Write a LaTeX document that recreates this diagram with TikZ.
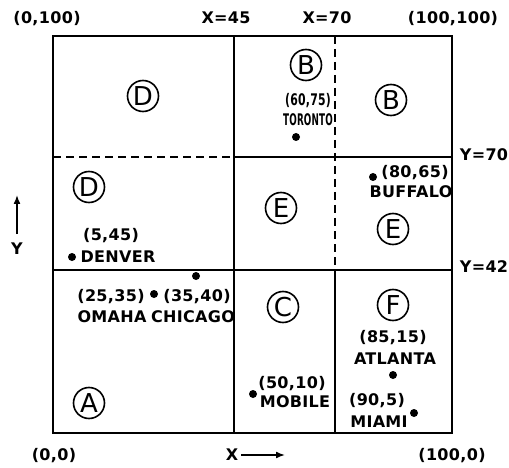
\documentclass[tikz,border=0pt]{standalone}
\usepackage{fontspec}
\usepackage{graphicx}
\setmainfont{DejaVu Sans}
\newfontfamily\lab[LetterSpace=2]{DejaVu Sans}
\usetikzlibrary{arrows.meta}
\begin{document}
\begin{tikzpicture}[x=1pt,y=-1pt,
  lbl/.style={font=\lab\bfseries\fontsize{16}{16}\selectfont, inner sep=0pt, text height=11.5pt, text depth=0pt},
  reg/.style={circle, draw, line width=1.6pt, minimum size=31pt, inner sep=0pt, font=\fontsize{26}{26}\selectfont},
  city/.style={circle, fill, minimum size=8pt, inner sep=0pt},
  gridline/.style={line width=2pt},
  griddash/.style={line width=2pt, dash pattern=on 8pt off 5pt},
  axarrow/.style={line width=1.6pt, -{Latex[length=9pt,width=7pt]}}]
\useasboundingbox (0,0) rectangle (509,468);
% frame and grid coordinates
\coordinate (tl) at (53,36);
\coordinate (br) at (452,433);
\coordinate (x45t) at (234,36);
\coordinate (x45b) at (234,433);
\coordinate (x70t) at (335,36);
\coordinate (x70m) at (335,270);
\coordinate (x70b) at (335,433);
\coordinate (y70l) at (53,157);
\coordinate (y70m) at (234,157);
\coordinate (y70r) at (452,157);
\coordinate (y42l) at (53,270);
\coordinate (y42r) at (452,270);
\draw[gridline] (tl) rectangle (br);
\draw[gridline] (x45t) -- (x45b);
\draw[griddash] (x70t) -- (x70m);
\draw[gridline] (x70m) -- (x70b);
\draw[griddash] (y70l) -- (y70m);
\draw[gridline] (y70m) -- (y70r);
\draw[gridline] (y42l) -- (y42r);
% region circles
\node[reg] (D1) at (143,96) {D};
\node[reg] (D2) at (89,187) {D};
\node[reg] (B1) at (306,65) {B};
\node[reg] (B2) at (391,100) {B};
\node[reg] (E1) at (281,208) {E};
\node[reg] (E2) at (393,229) {E};
\node[reg] (A) at (89,403) {A};
\node[reg] (C) at (283,307) {C};
\node[reg] (F) at (393,305) {F};
% cities
\node[city] (toronto) at (296,137) {};
\node[city] (buffalo) at (373,177) {};
\node[city] (denver) at (72,257) {};
\node[city] (chicago) at (196,276) {};
\node[city] (omaha) at (154,294) {};
\node[city] (mobile) at (253,394) {};
\node[city] (atlanta) at (393,375) {};
\node[city] (miami) at (414,413) {};
% city labels
\node[lbl] (torC) at (308,100) {\scalebox{0.68}[1]{(60,75)}};
\node[lbl] (torN) at (308,120) {\scalebox{0.55}[1]{TORONTO}};
\node[lbl] (bufC) at (415,172) {(80,65)};
\node[lbl] (bufN) at (411,192) {BUFFALO};
\node[lbl] (denC) at (111,235) {(5,45)};
\node[lbl] (denN) at (118,257) {DENVER};
\node[lbl] (omaC) at (111,296) {(25,35)};
\node[lbl] (chiC) at (197,296) {(35,40)};
\node[lbl] (omaN) at (112,317) {OMAHA};
\node[lbl] (chiN) at (193,317) {CHICAGO};
\node[lbl] (mobC) at (292,383) {(50,10)};
\node[lbl] (mobN) at (295,402) {MOBILE};
\node[lbl] (atlC) at (393,337) {(85,15)};
\node[lbl] (atlN) at (395,359) {ATLANTA};
\node[lbl] (miaC) at (377,400) {(90,5)};
\node[lbl] (miaN) at (379,422) {MIAMI};
% corner and line labels
\node[lbl] (c0100) at (47,18) {(0,100)};
\node[lbl] (lx45) at (226,18) {X=45};
\node[lbl] (lx70) at (327,18) {X=70};
\node[lbl] (c100100) at (453,18) {(100,100)};
\node[lbl] (ly70) at (484,155) {Y=70};
\node[lbl] (ly42) at (484,267) {Y=42};
\node[lbl] (c00) at (54,455) {(0,0)};
\node[lbl] (c1000) at (452,455) {(100,0)};
\node[lbl] (lX) at (232,455) {X};
\node[lbl] (lY) at (17,249) {Y};
% axis arrows
\coordinate (ya1) at (17,234);
\coordinate (ya2) at (17,195);
\coordinate (xa1) at (241,455);
\coordinate (xa2) at (285,455);
\draw[axarrow] (ya1) -- (ya2);
\draw[axarrow] (xa1) -- (xa2);
\end{tikzpicture}
\end{document}
